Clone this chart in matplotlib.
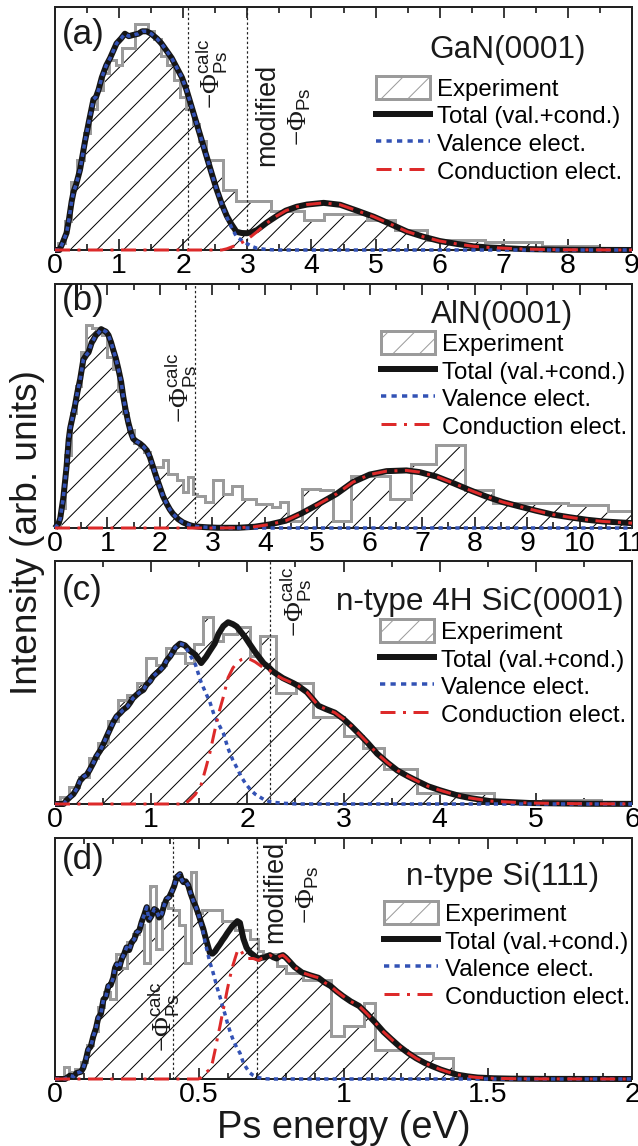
import numpy as np
import matplotlib
matplotlib.use("Agg")
import matplotlib.pyplot as plt
import matplotlib.transforms as mtransforms
from matplotlib.patches import Patch
from matplotlib.lines import Line2D
from matplotlib.ticker import MultipleLocator, FuncFormatter

DPI = 80


def pt(px):
    # sizes are thought of in output pixels
    return px * 72.0 / DPI


plt.rcParams['font.family'] = ['Liberation Sans', 'DejaVu Sans']
plt.rcParams['mathtext.fontset'] = 'custom'
plt.rcParams['mathtext.rm'] = 'Liberation Serif'
plt.rcParams['mathtext.sf'] = 'Liberation Sans'
plt.rcParams['hatch.linewidth'] = pt(1.0)

GRAY = '#9b9b9b'
BLUE = '#3352b5'
RED = '#dd2a2a'
BLACK = '#151515'

# ---- (a) GaN(0001) ----
a_x = [0.00, 0.07, 0.12, 0.18, 0.22, 0.26, 0.29, 0.33, 0.36, 0.39,
       0.43, 0.47, 0.53, 0.60, 0.64, 0.68, 0.73, 0.80, 0.86, 0.96,
       1.03, 1.09, 1.15, 1.22, 1.30, 1.36, 1.43, 1.50, 1.59, 1.66,
       1.74, 1.82, 1.90, 1.98, 2.05, 2.13, 2.21, 2.29, 2.37, 2.45,
       2.52, 2.60, 2.68, 2.75, 2.83, 2.91, 2.99, 3.07, 3.15, 3.30,
       3.46, 3.60, 3.77, 3.93, 4.19, 4.45, 4.71, 4.97, 5.23, 5.49,
       5.74, 6.00, 6.27, 6.53, 6.79, 7.30, 7.80, 8.40, 9.00]
a_val = [0, 0, 3, 7, 13, 20, 24, 27, 30, 33,
         39, 45, 53, 62, 63, 66, 71, 76, 79, 85,
         87, 89, 88, 88.5, 89, 90, 90, 89, 87, 85,
         82, 79, 75, 71, 66, 59, 52, 45, 38, 31,
         25, 19, 13.5, 9.5, 5.5, 4.0, 2.7, 1.5, 0.7, 0.2,
         0, 0, 0, 0, 0, 0, 0, 0, 0, 0,
         0, 0, 0, 0, 0, 0, 0, 0, 0]
a_cond = [0, 0, 0, 0, 0, 0, 0, 0, 0, 0,
          0, 0, 0, 0, 0, 0, 0, 0, 0, 0,
          0, 0, 0, 0, 0, 0, 0, 0, 0, 0,
          0, 0, 0, 0, 0, 0, 0, 0, 0, 0,
          0, 0, 0.5, 1.2, 2.0, 3.0, 4.2, 5.8, 7.5, 11,
          14, 16.2, 17.8, 18.7, 19.4, 18.6, 16.2, 13.7, 10.7, 7.6,
          5.5, 3.7, 2.5, 1.5, 1.0, 0.4, 0.15, 0.05, 0]
a_edges = [0.05, 0.15, 0.25, 0.35, 0.45, 0.55, 0.65, 0.75, 0.85, 0.95,
           1.05, 1.15, 1.25, 1.35, 1.45, 1.55, 1.65, 1.75, 1.85, 1.95,
           2.05, 2.15, 2.25, 2.35, 2.62, 2.82, 3.37, 3.88, 4.20, 4.86,
           5.30, 5.80, 6.70, 7.60, 8.45]
a_counts = [3, 12, 28, 37, 48, 58, 66, 73, 78, 76,
            83, 83, 93, 93, 90, 87, 80, 76, 70, 63,
            58, 52, 45, 37, 24.7, 20, 16.2, 12.3, 15, 12.3,
            8.3, 4.1, 3.4, 1.6]

# ---- (b) AlN(0001) ----
b_x = [0.00, 0.07, 0.10, 0.16, 0.22, 0.26, 0.29, 0.33, 0.38, 0.43,
       0.48, 0.54, 0.60, 0.64, 0.70, 0.73, 0.78, 0.83, 0.88, 0.92,
       0.97, 1.02, 1.07, 1.11, 1.16, 1.21, 1.26, 1.30, 1.35, 1.40,
       1.45, 1.49, 1.55, 1.62, 1.68, 1.75, 1.81, 1.87, 1.93, 2.00,
       2.06, 2.13, 2.19, 2.25, 2.35, 2.44, 2.55, 2.63, 2.75, 2.89,
       3.10, 3.50, 3.80, 4.10, 4.40, 4.70, 5.00, 5.37, 5.68, 6.00,
       6.32, 6.70, 6.95, 7.27, 7.59, 7.90, 8.22, 8.54, 8.86, 9.17,
       9.49, 9.81, 10.13, 10.44, 11.00]
b_val = [0, 2, 4, 12.6, 25, 36, 41, 45, 50, 56,
         61, 69, 71, 72, 76, 77, 79, 80, 81.5, 81,
         80.5, 79, 76, 73, 69.5, 65, 60, 54, 48, 43,
         39, 36.6, 35.5, 34.6, 33.5, 31.8, 29, 25, 21, 16.7,
         13, 9.9, 7.6, 5.8, 3.6, 2.3, 1.3, 0.8, 0.5, 0.3,
         0.1, 0, 0, 0, 0, 0, 0, 0, 0, 0,
         0, 0, 0, 0, 0, 0, 0, 0, 0, 0,
         0, 0, 0, 0, 0]
b_cond = [0, 0, 0, 0, 0, 0, 0, 0, 0, 0,
          0, 0, 0, 0, 0, 0, 0, 0, 0, 0,
          0, 0, 0, 0, 0, 0, 0, 0, 0, 0,
          0, 0, 0, 0, 0, 0, 0, 0, 0, 0,
          0, 0, 0, 0, 0, 0, 0, 0, 0, 0,
          0, 0.1, 0.5, 1.5, 3.0, 6.0, 9.5, 14, 18.8, 21.9,
          23.3, 23.6, 22.9, 21.1, 18.4, 15.6, 12.9, 10.6, 8.8, 7.1,
          5.5, 4.4, 3.4, 2.7, 2.0]
b_edges = [0.1, 0.2, 0.3, 0.4, 0.5, 0.6, 0.7, 0.8, 0.9, 1.0,
           1.1, 1.2, 1.3, 1.4, 1.5, 1.6, 1.7, 1.81, 2.06, 2.16,
           2.32, 2.44, 2.54, 2.63, 2.70, 2.86, 3.02, 3.21, 3.37, 3.56,
           3.84, 4.13, 4.29, 4.44, 4.70, 5.05, 5.30, 5.65, 6.38, 6.79,
           7.27, 7.81, 8.35, 9.78, 10.54, 11.0]
b_counts = [8, 30, 47, 58, 72, 83, 82, 80, 79, 70,
            65, 56, 47, 40, 35, 33, 31, 25, 27.7, 22,
            19.5, 14.7, 20.9, 14, 13.3, 10.6, 19.5, 14, 17.4, 12,
            9.9, 8.5, 10.6, 3, 16, 15.4, 3, 21.5, 11.9, 26.3,
            33.9, 15.6, 10.2, 9.6, 7.1]

# ---- (c) n-type 4H SiC(0001) ----
c_x = [0.00, 0.09, 0.12, 0.16, 0.19, 0.23, 0.26, 0.30, 0.33, 0.36,
       0.40, 0.43, 0.47, 0.50, 0.54, 0.57, 0.61, 0.64, 0.68, 0.71,
       0.75, 0.78, 0.81, 0.85, 0.88, 0.92, 0.95, 0.99, 1.02, 1.06,
       1.09, 1.13, 1.16, 1.20, 1.25, 1.30, 1.35, 1.40, 1.46, 1.52,
       1.57, 1.61, 1.66, 1.70, 1.75, 1.80, 1.85, 1.89, 1.94, 1.98,
       2.03, 2.08, 2.17, 2.23, 2.27, 2.37, 2.48, 2.53, 2.62, 2.74,
       2.82, 2.91, 3.00, 3.08, 3.17, 3.25, 3.35, 3.46, 3.56, 3.67,
       3.78, 3.88, 4.00, 4.10, 4.20, 4.31, 4.52, 4.94, 5.50, 6.00]
c_val = [0, 0, 1.5, 3, 4, 6.5, 9.5, 11.3, 12, 14,
         17, 19.6, 22, 24.4, 28, 30.6, 34, 36, 37.5, 38.8,
         40, 41.6, 43.5, 45, 46, 47, 49, 50.6, 52.5, 54,
         55, 56.7, 59, 60.9, 64.3, 66, 65.3, 61.6, 57.4, 50,
         45.5, 42, 36, 33, 29.2, 22.8, 18, 15, 11, 8.5,
         6, 4.1, 1.9, 1.0, 0.7, 0.3, 0.1, 0, 0, 0,
         0, 0, 0, 0, 0, 0, 0, 0, 0, 0,
         0, 0, 0, 0, 0, 0, 0, 0, 0, 0]
c_cond = [0, 0, 0, 0, 0, 0, 0, 0, 0, 0,
          0, 0, 0, 0, 0, 0, 0, 0, 0, 0,
          0, 0, 0, 0, 0, 0, 0, 0, 0, 0,
          0, 0, 0, 0, 0, 0, 0, 1.6, 4.0, 8,
          15, 21, 30, 37, 44, 52, 56, 58, 59.5, 60,
          59.5, 58.5, 56, 55, 53.7, 51.5, 49.6, 48.6, 46, 40.4,
          39, 37.6, 35, 32.1, 28.5, 25.2, 20.7, 16.9, 13.8, 11.4,
          9.2, 7.3, 5.7, 4.5, 3.4, 2.5, 1.2, 0.4, 0.1, 0.05]
c_edges = [0.05, 0.15, 0.25, 0.35, 0.45, 0.55, 0.65, 0.75, 0.85, 0.95,
           1.05, 1.15, 1.25, 1.35, 1.45, 1.54, 1.645, 1.75, 1.89, 2.03,
           2.13, 2.30, 2.51, 2.68, 3.00, 3.20, 3.42, 3.76, 4.57, 5.07,
           5.68]
c_counts = [3, 7, 11, 19, 25, 34, 43, 45, 50, 60,
            57, 64, 62, 58, 66, 77, 67, 70, 73, 61,
            69, 45.7, 50, 36, 28, 23, 14.2, 4.5, 1.1, 1.8]

# ---- (d) n-type Si(111) ----
d_x = [0.000, 0.035, 0.052, 0.065, 0.075, 0.090, 0.098, 0.107, 0.115, 0.124,
       0.133, 0.142, 0.150, 0.159, 0.168, 0.176, 0.185, 0.193, 0.202, 0.208,
       0.214, 0.222, 0.231, 0.240, 0.248, 0.257, 0.266, 0.275, 0.283, 0.292,
       0.300, 0.309, 0.318, 0.326, 0.335, 0.344, 0.352, 0.361, 0.370, 0.378,
       0.387, 0.396, 0.404, 0.413, 0.422, 0.433, 0.440, 0.445, 0.453, 0.462,
       0.470, 0.479, 0.488, 0.497, 0.505, 0.514, 0.520, 0.526, 0.537, 0.546,
       0.555, 0.563, 0.572, 0.580, 0.589, 0.597, 0.606, 0.615, 0.624, 0.632,
       0.641, 0.653, 0.664, 0.676, 0.687, 0.699, 0.705, 0.716, 0.728, 0.745,
       0.757, 0.768, 0.780, 0.790, 0.800, 0.815, 0.830, 0.856, 0.885, 0.913,
       0.935, 0.955, 0.977, 0.998, 1.025, 1.054, 1.082, 1.111, 1.139, 1.167,
       1.195, 1.224, 1.252, 1.281, 1.310, 1.337, 1.365, 1.394, 1.430, 1.465,
       1.520, 1.580, 1.700, 2.000]
d_val = [0, 0, 1.4, 1.0, 2.5, 3.0, 4.6, 8, 12.2, 13.5,
         17.8, 21, 25.4, 27, 33, 34, 38.6, 39, 42, 46,
         47.6, 46, 49.7, 52, 54.6, 53.5, 56.7, 58, 60.8, 61.5,
         65, 68, 71.3, 66, 67.8, 70.5, 69.9, 67, 68.5, 72,
         74.7, 75.5, 77.5, 80, 83.8, 85, 82.5, 81.7, 82, 80.3,
         77, 74, 71.5, 68.5, 65, 60.8, 57, 53.9, 48.3, 45,
         41, 37.5, 34, 30.5, 27, 23.5, 20, 17, 14.5, 12.5,
         10.8, 6.7, 4.5, 2.5, 1.5, 0.8, 0.6, 0.3, 0.1, 0,
         0, 0, 0, 0, 0, 0, 0, 0, 0, 0,
         0, 0, 0, 0, 0, 0, 0, 0, 0, 0,
         0, 0, 0, 0, 0, 0, 0, 0, 0, 0,
         0, 0, 0, 0]
d_cond = [0, 0, 0, 0, 0, 0, 0, 0, 0, 0,
          0, 0, 0, 0, 0, 0, 0, 0, 0, 0,
          0, 0, 0, 0, 0, 0, 0, 0, 0, 0,
          0, 0, 0, 0, 0, 0, 0, 0, 0, 0,
          0, 0, 0, 0, 0, 0, 0, 0, 0, 0,
          0, 0, 0, 0, 0.5, 1.5, 2.5, 3.0, 4.0, 7.0,
          12, 17, 22, 27, 32, 37, 42, 46.5, 50, 53,
          54, 51.5, 50, 50, 50, 49.5, 49.2, 50, 50.4, 51.4,
          50.5, 50, 51, 51.4, 50.4, 48.5, 46.5, 44.2, 43, 42,
          40, 38.6, 36.3, 34.4, 32.2, 30.3, 27, 23.3, 19.5, 16.4,
          13.4, 10.8, 8.6, 6.7, 5.2, 3.9, 2.8, 1.8, 1.1, 0.6,
          0.3, 0.15, 0.05, 0]
d_edges = [0.03, 0.05, 0.07, 0.09, 0.11, 0.13, 0.15, 0.17, 0.19, 0.21,
           0.23, 0.25, 0.27, 0.29, 0.31, 0.33, 0.35, 0.37, 0.39, 0.41,
           0.43, 0.45, 0.47, 0.49, 0.51, 0.55, 0.58, 0.623, 0.676, 0.705,
           0.722, 0.768, 0.80, 0.86, 0.955, 1.00, 1.07, 1.11, 1.22, 1.31,
           1.38]
d_counts = [5, 3, 4, 7, 14, 20, 30, 36, 33, 52,
            46, 57, 60, 64, 48, 80, 54, 73, 71, 70,
            64, 48, 86, 69, 70, 70, 65.7, 62, 58, 53,
            52, 47, 44, 41, 18, 22, 31.5, 12.2, 10.8, 8.75]

legend_labels = ['Experiment', 'Total (val.+cond.)', 'Valence elect.', 'Conduction elect.']
calc_label = r'$-\Phi^{\mathsf{calc}}_{\mathsf{Ps}}$'
mod_label = r'$-\Phi_{\mathsf{Ps}}$'


def draw_panel(ax, x, val, cond, edges, counts, xmax, major, minor):
    x = np.asarray(x)
    val = np.asarray(val, dtype=float)
    cond = np.asarray(cond, dtype=float)
    total = val + cond

    # hatched histogram, hatch in black, outline in gray on top
    ax.stairs(counts, edges, baseline=0, fill=True, facecolor='white',
              edgecolor='black', hatch='/', linewidth=0, zorder=1)
    ax.stairs(counts, edges, baseline=0, fill=False, edgecolor=GRAY,
              linewidth=pt(3), zorder=2)

    ax.plot(x, total, color=BLACK, lw=pt(6), zorder=4, clip_on=False,
            solid_capstyle='butt')
    ax.plot(x, val, color=BLUE, lw=pt(3.5), ls=(0, (1.2, 1.2)), zorder=5,
            clip_on=False)
    ax.plot(x, cond, color=RED, lw=pt(3), ls=(0, (5, 2.5, 1, 2.5)), zorder=6,
            clip_on=False)

    ax.set_xlim(0, xmax)
    ax.set_ylim(0, 100)
    ax.set_yticks([])
    ax.xaxis.set_major_locator(MultipleLocator(major))
    ax.xaxis.set_minor_locator(MultipleLocator(minor))
    ax.xaxis.set_major_formatter(FuncFormatter(lambda v, p: '%g' % v))
    ax.tick_params(axis='x', which='both', direction='in', top=True,
                   bottom=True, width=pt(1.5), labelsize=pt(28.5), pad=pt(3))
    ax.tick_params(axis='x', which='major', length=pt(11))
    ax.tick_params(axis='x', which='minor', length=pt(6))
    for s in ax.spines.values():
        s.set_linewidth(pt(2))
        s.set_color('#222222')

    handles = [
        Patch(facecolor='white', edgecolor=GRAY, hatch='/', linewidth=pt(3)),
        Line2D([], [], color=BLACK, lw=pt(6)),
        Line2D([], [], color=BLUE, lw=pt(3.5), ls=(0, (1.5, 1.5))),
        Line2D([], [], color=RED, lw=pt(3), ls=(0, (5, 2.5, 1, 2.5))),
    ]
    return handles


def vtext(ax, xd, yf, s, size=27):
    tr = mtransforms.blended_transform_factory(ax.transData, ax.transAxes)
    ax.text(xd, yf, s, transform=tr, rotation=90, ha='center', va='center',
            fontsize=pt(size), color='#1a1a1a', zorder=7)


def vline(ax, xd):
    ax.axvline(xd, color='#222222', lw=pt(1.2), ls=(0, (2, 2)), zorder=3)


W, H = 638, 1146
fig = plt.figure(figsize=(W / DPI, H / DPI), dpi=DPI)
left = 55 / W
width = 577 / W
rects = {
    'a': [left, 1 - 250 / H, width, 243 / H],
    'b': [left, 1 - 528 / H, width, 244 / H],
    'c': [left, 1 - 804 / H, width, 243 / H],
    'd': [left, 1 - 1079 / H, width, 241 / H],
}

panels = [
    ('a', a_x, a_val, a_cond, a_edges, a_counts, 9, 1, 0.5,
     'GaN(0001)', (0.785, 0.823), 0.885, (0.556, 0.715)),
    ('b', b_x, b_val, b_cond, b_edges, b_counts, 11, 1, 0.5,
     'AlN(0001)', (0.775, 0.873), 0.934, (0.565, 0.806)),
    ('c', c_x, c_val, c_cond, c_edges, c_counts, 6, 1, 0.5,
     'n-type 4H SiC(0001)', (0.736, 0.831), 0.88, (0.563, 0.760)),
    ('d', d_x, d_val, d_cond, d_edges, d_counts, 2, 0.5, 0.1,
     'n-type Si(111)', (0.776, 0.838), 0.909, (0.570, 0.737)),
]

axes = {}
for key, x, val, cond, edges, counts, xmax, major, minor, title, tpos, lab_y, leg in panels:
    ax = fig.add_axes(rects[key])
    axes[key] = ax
    handles = draw_panel(ax, x, val, cond, edges, counts, xmax, major, minor)
    ax.text(0.012, lab_y, '(%s)' % key, transform=ax.transAxes, ha='left',
            va='center', fontsize=pt(35), color='#1a1a1a', zorder=8)
    ax.text(tpos[0], tpos[1], title, transform=ax.transAxes, ha='center',
            va='center', fontsize=pt(31.5), color='#1a1a1a', zorder=8)
    ax.legend(handles, legend_labels, loc='upper left', bbox_to_anchor=leg,
              frameon=False, fontsize=pt(24), handlelength=2.25,
              handleheight=1.1, handletextpad=0.3, labelspacing=0.12,
              borderpad=0, borderaxespad=0)

# work-function markers
ax = axes['a']
vline(ax, 2.08)
vline(ax, 2.99)
vtext(ax, 2.43, 0.724, calc_label)
vtext(ax, 3.31, 0.556, 'modified', 27)
vtext(ax, 3.82, 0.55, mod_label)

ax = axes['b']
vline(ax, 2.67)
vtext(ax, 2.38, 0.574, calc_label)

ax = axes['c']
vline(ax, 2.235)
vtext(ax, 2.5, 0.83, calc_label)

ax = axes['d']
vline(ax, 0.41)
vline(ax, 0.70)
vtext(ax, 0.373, 0.257, calc_label)
vtext(ax, 0.763, 0.776, 'modified', 27)
vtext(ax, 0.877, 0.763, mod_label)

fig.text(28 / W, 1 - 533 / H, 'Intensity (arb. units)', rotation=90,
         ha='center', va='center', fontsize=pt(37), color='#1a1a1a')
fig.text((55 + 289) / W, 1 - 1128 / H, 'Ps energy (eV)', ha='center',
         va='center', fontsize=pt(38), color='#1a1a1a')

fig.savefig('out.png', dpi=DPI)
